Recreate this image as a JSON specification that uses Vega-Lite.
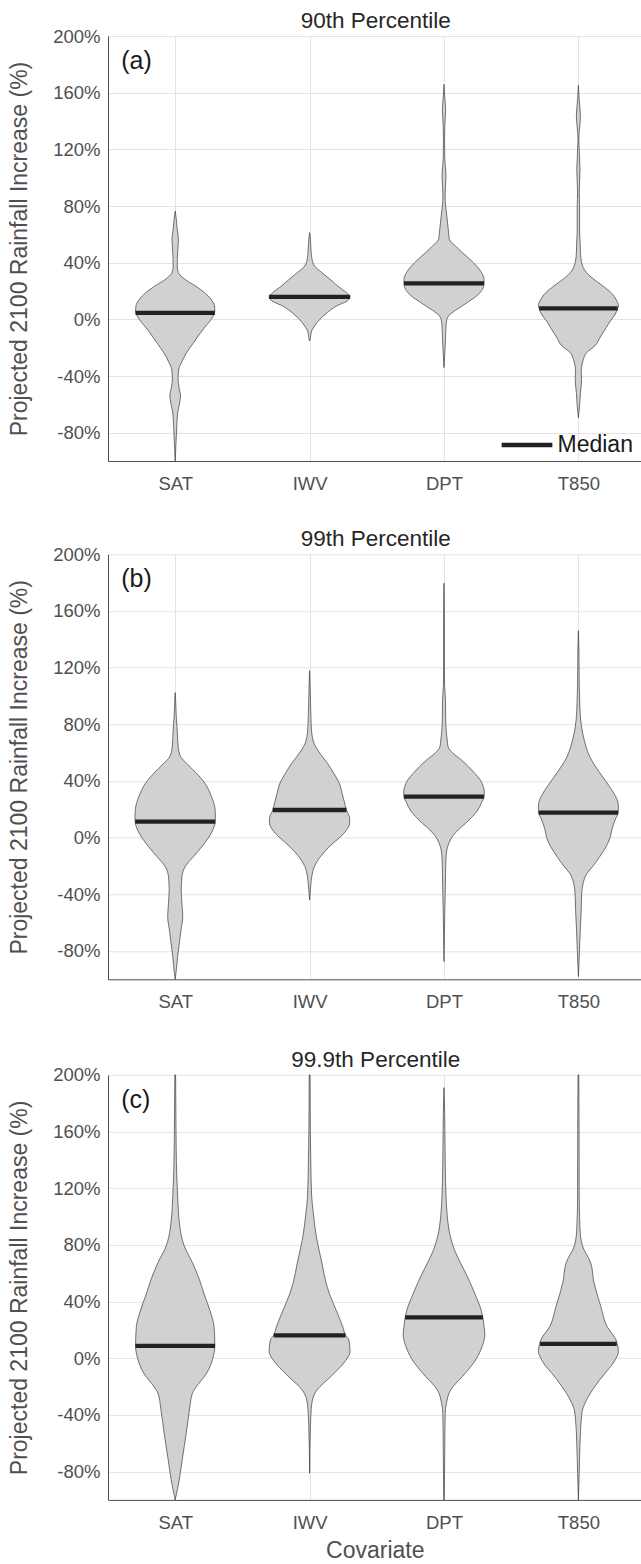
{
  "$schema": "https://vega.github.io/schema/vega-lite/v6.json",
  "padding": {"left": 8, "top": 10, "right": 0, "bottom": 0},
  "background": "white",
  "datasets": {
    "v": [
      {"p":"a","c":"SAT","y":-100,"w":0},{"p":"a","c":"SAT","y":-87,"w":0.006},{"p":"a","c":"SAT","y":-75,"w":0.012},{"p":"a","c":"SAT","y":-66,"w":0.018},{"p":"a","c":"SAT","y":-59,"w":0.033},{"p":"a","c":"SAT","y":-54,"w":0.04},{"p":"a","c":"SAT","y":-49,"w":0.03},{"p":"a","c":"SAT","y":-42,"w":0.021},{"p":"a","c":"SAT","y":-35,"w":0.027},{"p":"a","c":"SAT","y":-30.6,"w":0.046},{"p":"a","c":"SAT","y":-23.5,"w":0.085},{"p":"a","c":"SAT","y":-16.5,"w":0.137},{"p":"a","c":"SAT","y":-9.4,"w":0.189},{"p":"a","c":"SAT","y":-4.7,"w":0.228},{"p":"a","c":"SAT","y":0,"w":0.268},{"p":"a","c":"SAT","y":5.9,"w":0.295},{"p":"a","c":"SAT","y":9.4,"w":0.292},{"p":"a","c":"SAT","y":14,"w":0.268},{"p":"a","c":"SAT","y":18.8,"w":0.219},{"p":"a","c":"SAT","y":23.5,"w":0.152},{"p":"a","c":"SAT","y":28,"w":0.076},{"p":"a","c":"SAT","y":33,"w":0.024},{"p":"a","c":"SAT","y":37.6,"w":0.015},{"p":"a","c":"SAT","y":47,"w":0.018},{"p":"a","c":"SAT","y":56.5,"w":0.024},{"p":"a","c":"SAT","y":63.5,"w":0.015},{"p":"a","c":"SAT","y":70,"w":0.009},{"p":"a","c":"SAT","y":76.5,"w":0},
      {"p":"a","c":"IWV","y":-15.3,"w":0},{"p":"a","c":"IWV","y":-13,"w":0.006},{"p":"a","c":"IWV","y":-8.2,"w":0.015},{"p":"a","c":"IWV","y":-4.7,"w":0.037},{"p":"a","c":"IWV","y":0,"w":0.076},{"p":"a","c":"IWV","y":4.7,"w":0.13},{"p":"a","c":"IWV","y":9.4,"w":0.2},{"p":"a","c":"IWV","y":13,"w":0.28},{"p":"a","c":"IWV","y":16,"w":0.301},{"p":"a","c":"IWV","y":18.8,"w":0.274},{"p":"a","c":"IWV","y":23.5,"w":0.21},{"p":"a","c":"IWV","y":28,"w":0.155},{"p":"a","c":"IWV","y":33,"w":0.091},{"p":"a","c":"IWV","y":37.6,"w":0.037},{"p":"a","c":"IWV","y":41,"w":0.021},{"p":"a","c":"IWV","y":47,"w":0.012},{"p":"a","c":"IWV","y":56.5,"w":0.006},{"p":"a","c":"IWV","y":61.2,"w":0},
      {"p":"a","c":"DPT","y":-34.1,"w":0},{"p":"a","c":"DPT","y":-23.5,"w":0.006},{"p":"a","c":"DPT","y":-14.1,"w":0.011},{"p":"a","c":"DPT","y":-4.7,"w":0.015},{"p":"a","c":"DPT","y":0,"w":0.021},{"p":"a","c":"DPT","y":3.5,"w":0.046},{"p":"a","c":"DPT","y":7.1,"w":0.097},{"p":"a","c":"DPT","y":11.8,"w":0.173},{"p":"a","c":"DPT","y":16.5,"w":0.243},{"p":"a","c":"DPT","y":21.2,"w":0.286},{"p":"a","c":"DPT","y":25.4,"w":0.298},{"p":"a","c":"DPT","y":28.2,"w":0.298},{"p":"a","c":"DPT","y":32.9,"w":0.28},{"p":"a","c":"DPT","y":37.6,"w":0.243},{"p":"a","c":"DPT","y":42.4,"w":0.192},{"p":"a","c":"DPT","y":47.1,"w":0.137},{"p":"a","c":"DPT","y":51.8,"w":0.085},{"p":"a","c":"DPT","y":56.5,"w":0.04},{"p":"a","c":"DPT","y":61.2,"w":0.034},{"p":"a","c":"DPT","y":72.9,"w":0.021},{"p":"a","c":"DPT","y":80,"w":0.012},{"p":"a","c":"DPT","y":88,"w":0.008},{"p":"a","c":"DPT","y":101.2,"w":0.015},{"p":"a","c":"DPT","y":112.9,"w":0.006},{"p":"a","c":"DPT","y":127.1,"w":0.004},{"p":"a","c":"DPT","y":137,"w":0.006},{"p":"a","c":"DPT","y":148.2,"w":0.012},{"p":"a","c":"DPT","y":157.6,"w":0.005},{"p":"a","c":"DPT","y":165.9,"w":0},
      {"p":"a","c":"T850","y":-69.4,"w":0},{"p":"a","c":"T850","y":-61.2,"w":0.009},{"p":"a","c":"T850","y":-51.8,"w":0.015},{"p":"a","c":"T850","y":-42.4,"w":0.024},{"p":"a","c":"T850","y":-37.6,"w":0.021},{"p":"a","c":"T850","y":-28.2,"w":0.037},{"p":"a","c":"T850","y":-23.5,"w":0.061},{"p":"a","c":"T850","y":-18.8,"w":0.122},{"p":"a","c":"T850","y":-11.8,"w":0.167},{"p":"a","c":"T850","y":-5.9,"w":0.207},{"p":"a","c":"T850","y":-1.2,"w":0.237},{"p":"a","c":"T850","y":3.5,"w":0.274},{"p":"a","c":"T850","y":7.8,"w":0.292},{"p":"a","c":"T850","y":9.4,"w":0.298},{"p":"a","c":"T850","y":14.1,"w":0.28},{"p":"a","c":"T850","y":18.8,"w":0.243},{"p":"a","c":"T850","y":23.5,"w":0.183},{"p":"a","c":"T850","y":28.2,"w":0.116},{"p":"a","c":"T850","y":32.9,"w":0.061},{"p":"a","c":"T850","y":40,"w":0.024},{"p":"a","c":"T850","y":47.1,"w":0.015},{"p":"a","c":"T850","y":56.5,"w":0.012},{"p":"a","c":"T850","y":61.2,"w":0.009},{"p":"a","c":"T850","y":80,"w":0.009},{"p":"a","c":"T850","y":89.4,"w":0.006},{"p":"a","c":"T850","y":105.9,"w":0.012},{"p":"a","c":"T850","y":127.1,"w":0.003},{"p":"a","c":"T850","y":143.5,"w":0.015},{"p":"a","c":"T850","y":155,"w":0.006},{"p":"a","c":"T850","y":165.2,"w":0},

      {"p":"b","c":"SAT","y":-100,"w":0},{"p":"b","c":"SAT","y":-92,"w":0.01},{"p":"b","c":"SAT","y":-84,"w":0.018},{"p":"b","c":"SAT","y":-75,"w":0.03},{"p":"b","c":"SAT","y":-65.2,"w":0.043},{"p":"b","c":"SAT","y":-55.8,"w":0.056},{"p":"b","c":"SAT","y":-46.4,"w":0.05},{"p":"b","c":"SAT","y":-36.9,"w":0.045},{"p":"b","c":"SAT","y":-27.5,"w":0.05},{"p":"b","c":"SAT","y":-20.5,"w":0.074},{"p":"b","c":"SAT","y":-13.4,"w":0.136},{"p":"b","c":"SAT","y":-6.4,"w":0.198},{"p":"b","c":"SAT","y":0,"w":0.248},{"p":"b","c":"SAT","y":5.4,"w":0.28},{"p":"b","c":"SAT","y":11.3,"w":0.298},{"p":"b","c":"SAT","y":17.2,"w":0.299},{"p":"b","c":"SAT","y":24.2,"w":0.288},{"p":"b","c":"SAT","y":31.3,"w":0.26},{"p":"b","c":"SAT","y":38.4,"w":0.221},{"p":"b","c":"SAT","y":45.4,"w":0.159},{"p":"b","c":"SAT","y":52.5,"w":0.084},{"p":"b","c":"SAT","y":57.2,"w":0.04},{"p":"b","c":"SAT","y":64.2,"w":0.022},{"p":"b","c":"SAT","y":76,"w":0.015},{"p":"b","c":"SAT","y":85.4,"w":0.008},{"p":"b","c":"SAT","y":95,"w":0.004},{"p":"b","c":"SAT","y":102.4,"w":0},
      {"p":"b","c":"IWV","y":-44,"w":0},{"p":"b","c":"IWV","y":-36.9,"w":0.006},{"p":"b","c":"IWV","y":-27.5,"w":0.016},{"p":"b","c":"IWV","y":-20.5,"w":0.035},{"p":"b","c":"IWV","y":-13.4,"w":0.081},{"p":"b","c":"IWV","y":-6.4,"w":0.146},{"p":"b","c":"IWV","y":0,"w":0.223},{"p":"b","c":"IWV","y":5.4,"w":0.275},{"p":"b","c":"IWV","y":10.1,"w":0.298},{"p":"b","c":"IWV","y":13.6,"w":0.298},{"p":"b","c":"IWV","y":19.5,"w":0.274},{"p":"b","c":"IWV","y":25.4,"w":0.258},{"p":"b","c":"IWV","y":31.3,"w":0.242},{"p":"b","c":"IWV","y":38.4,"w":0.221},{"p":"b","c":"IWV","y":45.4,"w":0.18},{"p":"b","c":"IWV","y":52.5,"w":0.133},{"p":"b","c":"IWV","y":59.5,"w":0.077},{"p":"b","c":"IWV","y":66.6,"w":0.033},{"p":"b","c":"IWV","y":76,"w":0.014},{"p":"b","c":"IWV","y":85,"w":0.01},{"p":"b","c":"IWV","y":95,"w":0.007},{"p":"b","c":"IWV","y":106.6,"w":0.004},{"p":"b","c":"IWV","y":117.9,"w":0},
      {"p":"b","c":"DPT","y":-87.5,"w":0},{"p":"b","c":"DPT","y":-55.8,"w":0.005},{"p":"b","c":"DPT","y":-34.6,"w":0.01},{"p":"b","c":"DPT","y":-15.8,"w":0.014},{"p":"b","c":"DPT","y":-8.7,"w":0.021},{"p":"b","c":"DPT","y":-4,"w":0.036},{"p":"b","c":"DPT","y":0.7,"w":0.062},{"p":"b","c":"DPT","y":5.4,"w":0.105},{"p":"b","c":"DPT","y":10.1,"w":0.161},{"p":"b","c":"DPT","y":14.8,"w":0.211},{"p":"b","c":"DPT","y":19.5,"w":0.252},{"p":"b","c":"DPT","y":24.2,"w":0.277},{"p":"b","c":"DPT","y":28.9,"w":0.298},{"p":"b","c":"DPT","y":31.3,"w":0.3},{"p":"b","c":"DPT","y":36,"w":0.293},{"p":"b","c":"DPT","y":40.7,"w":0.27},{"p":"b","c":"DPT","y":45.4,"w":0.229},{"p":"b","c":"DPT","y":50.1,"w":0.182},{"p":"b","c":"DPT","y":54.8,"w":0.13},{"p":"b","c":"DPT","y":59.5,"w":0.068},{"p":"b","c":"DPT","y":64.2,"w":0.03},{"p":"b","c":"DPT","y":68.9,"w":0.024},{"p":"b","c":"DPT","y":73.7,"w":0.018},{"p":"b","c":"DPT","y":85.4,"w":0.012},{"p":"b","c":"DPT","y":97.2,"w":0.011},{"p":"b","c":"DPT","y":108,"w":0.004},{"p":"b","c":"DPT","y":120.7,"w":0.003},{"p":"b","c":"DPT","y":156,"w":0.003},{"p":"b","c":"DPT","y":179.6,"w":0},
      {"p":"b","c":"T850","y":-98.1,"w":0},{"p":"b","c":"T850","y":-80,"w":0.008},{"p":"b","c":"T850","y":-65,"w":0.014},{"p":"b","c":"T850","y":-53.4,"w":0.02},{"p":"b","c":"T850","y":-39.3,"w":0.025},{"p":"b","c":"T850","y":-32.2,"w":0.035},{"p":"b","c":"T850","y":-25.2,"w":0.064},{"p":"b","c":"T850","y":-20.5,"w":0.105},{"p":"b","c":"T850","y":-13.4,"w":0.159},{"p":"b","c":"T850","y":-6.4,"w":0.206},{"p":"b","c":"T850","y":0,"w":0.236},{"p":"b","c":"T850","y":5.4,"w":0.248},{"p":"b","c":"T850","y":12.5,"w":0.273},{"p":"b","c":"T850","y":17.6,"w":0.295},{"p":"b","c":"T850","y":20.7,"w":0.298},{"p":"b","c":"T850","y":25.4,"w":0.293},{"p":"b","c":"T850","y":31.3,"w":0.264},{"p":"b","c":"T850","y":36,"w":0.232},{"p":"b","c":"T850","y":43,"w":0.18},{"p":"b","c":"T850","y":50.1,"w":0.128},{"p":"b","c":"T850","y":57.2,"w":0.084},{"p":"b","c":"T850","y":64.2,"w":0.057},{"p":"b","c":"T850","y":73.6,"w":0.032},{"p":"b","c":"T850","y":83,"w":0.017},{"p":"b","c":"T850","y":95,"w":0.01},{"p":"b","c":"T850","y":109,"w":0.006},{"p":"b","c":"T850","y":132.5,"w":0.004},{"p":"b","c":"T850","y":146.1,"w":0},

      {"p":"c","c":"SAT","y":-100,"w":0},{"p":"c","c":"SAT","y":-85.9,"w":0.03},{"p":"c","c":"SAT","y":-71.8,"w":0.052},{"p":"c","c":"SAT","y":-52.9,"w":0.082},{"p":"c","c":"SAT","y":-36.5,"w":0.106},{"p":"c","c":"SAT","y":-24.7,"w":0.128},{"p":"c","c":"SAT","y":-20,"w":0.158},{"p":"c","c":"SAT","y":-10.6,"w":0.234},{"p":"c","c":"SAT","y":0,"w":0.28},{"p":"c","c":"SAT","y":8.7,"w":0.295},{"p":"c","c":"SAT","y":22.4,"w":0.289},{"p":"c","c":"SAT","y":31.8,"w":0.265},{"p":"c","c":"SAT","y":45.9,"w":0.213},{"p":"c","c":"SAT","y":55.8,"w":0.179},{"p":"c","c":"SAT","y":67.5,"w":0.128},{"p":"c","c":"SAT","y":79.3,"w":0.067},{"p":"c","c":"SAT","y":91.1,"w":0.037},{"p":"c","c":"SAT","y":114.6,"w":0.018},{"p":"c","c":"SAT","y":138.1,"w":0.009},{"p":"c","c":"SAT","y":161.6,"w":0.006},{"p":"c","c":"SAT","y":200,"w":0.003},
      {"p":"c","c":"IWV","y":-81.2,"w":0},{"p":"c","c":"IWV","y":-48.2,"w":0.006},{"p":"c","c":"IWV","y":-36.5,"w":0.012},{"p":"c","c":"IWV","y":-29.4,"w":0.021},{"p":"c","c":"IWV","y":-22.4,"w":0.055},{"p":"c","c":"IWV","y":-12.9,"w":0.158},{"p":"c","c":"IWV","y":-3.5,"w":0.253},{"p":"c","c":"IWV","y":0,"w":0.28},{"p":"c","c":"IWV","y":4.7,"w":0.301},{"p":"c","c":"IWV","y":12.9,"w":0.292},{"p":"c","c":"IWV","y":16.2,"w":0.268},{"p":"c","c":"IWV","y":22.4,"w":0.246},{"p":"c","c":"IWV","y":31.8,"w":0.207},{"p":"c","c":"IWV","y":45.9,"w":0.146},{"p":"c","c":"IWV","y":53.4,"w":0.122},{"p":"c","c":"IWV","y":67.5,"w":0.091},{"p":"c","c":"IWV","y":86.4,"w":0.049},{"p":"c","c":"IWV","y":100.5,"w":0.03},{"p":"c","c":"IWV","y":114.6,"w":0.015},{"p":"c","c":"IWV","y":138.1,"w":0.009},{"p":"c","c":"IWV","y":161.6,"w":0.005},{"p":"c","c":"IWV","y":200,"w":0.003},
      {"p":"c","c":"DPT","y":-100,"w":0.002},{"p":"c","c":"DPT","y":-60,"w":0.006},{"p":"c","c":"DPT","y":-38.8,"w":0.009},{"p":"c","c":"DPT","y":-31.8,"w":0.018},{"p":"c","c":"DPT","y":-22.4,"w":0.049},{"p":"c","c":"DPT","y":-12.9,"w":0.137},{"p":"c","c":"DPT","y":-8.2,"w":0.18},{"p":"c","c":"DPT","y":0,"w":0.243},{"p":"c","c":"DPT","y":5.9,"w":0.274},{"p":"c","c":"DPT","y":17.6,"w":0.304},{"p":"c","c":"DPT","y":22.4,"w":0.298},{"p":"c","c":"DPT","y":28.9,"w":0.289},{"p":"c","c":"DPT","y":36.5,"w":0.268},{"p":"c","c":"DPT","y":45.9,"w":0.228},{"p":"c","c":"DPT","y":55.8,"w":0.183},{"p":"c","c":"DPT","y":67.5,"w":0.122},{"p":"c","c":"DPT","y":76.9,"w":0.076},{"p":"c","c":"DPT","y":86.4,"w":0.046},{"p":"c","c":"DPT","y":100.5,"w":0.024},{"p":"c","c":"DPT","y":114.6,"w":0.015},{"p":"c","c":"DPT","y":138.1,"w":0.009},{"p":"c","c":"DPT","y":173.4,"w":0.005},{"p":"c","c":"DPT","y":191,"w":0},
      {"p":"c","c":"T850","y":-100,"w":0},{"p":"c","c":"T850","y":-81.2,"w":0.006},{"p":"c","c":"T850","y":-60,"w":0.012},{"p":"c","c":"T850","y":-43.5,"w":0.021},{"p":"c","c":"T850","y":-36.5,"w":0.03},{"p":"c","c":"T850","y":-29.4,"w":0.061},{"p":"c","c":"T850","y":-20,"w":0.122},{"p":"c","c":"T850","y":-10.6,"w":0.198},{"p":"c","c":"T850","y":-3.5,"w":0.259},{"p":"c","c":"T850","y":0,"w":0.28},{"p":"c","c":"T850","y":4.7,"w":0.298},{"p":"c","c":"T850","y":10.1,"w":0.289},{"p":"c","c":"T850","y":12.9,"w":0.28},{"p":"c","c":"T850","y":22.4,"w":0.213},{"p":"c","c":"T850","y":36.5,"w":0.167},{"p":"c","c":"T850","y":45.9,"w":0.137},{"p":"c","c":"T850","y":53.4,"w":0.116},{"p":"c","c":"T850","y":67.5,"w":0.091},{"p":"c","c":"T850","y":79.3,"w":0.03},{"p":"c","c":"T850","y":91.1,"w":0.012},{"p":"c","c":"T850","y":114.6,"w":0.006},{"p":"c","c":"T850","y":161.6,"w":0.005},{"p":"c","c":"T850","y":200,"w":0.003}
    ],
    "m": [
      {"p":"a","c":"SAT","y":4.5,"w":0.295},{"p":"a","c":"IWV","y":15.8,"w":0.301},{"p":"a","c":"DPT","y":25.4,"w":0.298},{"p":"a","c":"T850","y":7.8,"w":0.292},
      {"p":"b","c":"SAT","y":11.3,"w":0.298},{"p":"b","c":"IWV","y":19.5,"w":0.274},{"p":"b","c":"DPT","y":28.9,"w":0.298},{"p":"b","c":"T850","y":17.6,"w":0.296},
      {"p":"c","c":"SAT","y":8.7,"w":0.296},{"p":"c","c":"IWV","y":16.2,"w":0.267},{"p":"c","c":"DPT","y":28.9,"w":0.289},{"p":"c","c":"T850","y":10.1,"w":0.285}
    ]
  },
  "vconcat": [
    {
      "width": 533.5, "height": 425,
      "title": {"text": "90th Percentile", "frame": "group", "offset": -5.6, "dx": 1},
      "layer": [
        {"mark": {"type": "rule", "color": "#444444", "strokeWidth": 1.3}, "encoding": {"y": {"datum": 0, "type": "quantitative"}}},
        {"mark": {"type": "rule", "color": "#4d4d4d", "strokeWidth": 1}, "encoding": {"y": {"datum": 200, "type": "quantitative"}}},
        {"data": {"name": "v"},
         "transform": [{"filter": "datum.p == 'a'"}, {"calculate": "indexof(['SAT','IWV','DPT','T850'], datum.c) + 1 - datum.w", "as": "lo"}, {"calculate": "indexof(['SAT','IWV','DPT','T850'], datum.c) + 1 + datum.w", "as": "hi"}],
         "mark": {"type": "area", "orient": "horizontal", "interpolate": "monotone", "fill": "#d1d1d3", "fillOpacity": 1, "stroke": "#3c3c3c", "strokeWidth": 0.7},
         "encoding": {
           "y": {"field": "y", "type": "quantitative", "scale": {"domain": [-100, 200], "nice": false, "zero": false}, "axis": {"values": [-80, -40, 0, 40, 80, 120, 160, 200], "labelExpr": "datum.value + '%'", "title": "Projected 2100 Rainfall Increase (%)"}},
           "x": {"field": "lo", "type": "quantitative", "scale": {"domain": [0.5, 4.4695], "nice": false, "zero": false}, "axis": {"values": [1, 2, 3, 4], "labelExpr": "['SAT','IWV','DPT','T850'][datum.value - 1]", "title": null}},
           "x2": {"field": "hi"},
           "detail": {"field": "c"}
         }},
        {"data": {"name": "m"},
         "transform": [{"filter": "datum.p == 'a'"}, {"calculate": "indexof(['SAT','IWV','DPT','T850'], datum.c) + 1 - datum.w", "as": "lo"}, {"calculate": "indexof(['SAT','IWV','DPT','T850'], datum.c) + 1 + datum.w", "as": "hi"}],
         "mark": {"type": "rule", "strokeWidth": 4.3, "strokeCap": "butt"},
         "encoding": {
           "y": {"field": "y", "type": "quantitative"},
           "x": {"field": "lo", "type": "quantitative"},
           "x2": {"field": "hi"},
           "color": {"datum": "Median", "type": "nominal", "scale": {"range": ["#222222"]}, "legend": {"title": null, "orient": "none", "legendX": 391.5, "legendY": 381.5, "symbolType": "stroke", "symbolSize": 2570, "symbolStrokeWidth": 4.3, "labelFontSize": 23, "labelColor": "#1a1a1a", "labelOffset": 3, "padding": 0}}
         }},
        {"data": {"values": [{"t": "(a)"}]},
         "mark": {"type": "text", "align": "left", "baseline": "middle", "fontSize": 25, "color": "#1a1a1a"},
         "encoding": {"x": {"datum": 0.598, "type": "quantitative"}, "y": {"datum": 182.6, "type": "quantitative"}, "text": {"field": "t", "type": "nominal"}}}
      ]
    },
    {
      "spacing": 37.6,
      "vconcat": [
        {
          "width": 533.5, "height": 425,
          "title": {"text": "99th Percentile", "frame": "group", "offset": -5.6, "dx": 1},
          "layer": [
            {"mark": {"type": "rule", "color": "#444444", "strokeWidth": 1.3}, "encoding": {"y": {"datum": 0, "type": "quantitative"}}},
            {"mark": {"type": "rule", "color": "#4d4d4d", "strokeWidth": 1}, "encoding": {"y": {"datum": 200, "type": "quantitative"}}},
            {"data": {"name": "v"},
             "transform": [{"filter": "datum.p == 'b'"}, {"calculate": "indexof(['SAT','IWV','DPT','T850'], datum.c) + 1 - datum.w", "as": "lo"}, {"calculate": "indexof(['SAT','IWV','DPT','T850'], datum.c) + 1 + datum.w", "as": "hi"}],
             "mark": {"type": "area", "orient": "horizontal", "interpolate": "monotone", "fill": "#d1d1d3", "fillOpacity": 1, "stroke": "#3c3c3c", "strokeWidth": 0.7},
             "encoding": {
               "y": {"field": "y", "type": "quantitative", "scale": {"domain": [-100, 200], "nice": false, "zero": false}, "axis": {"values": [-80, -40, 0, 40, 80, 120, 160, 200], "labelExpr": "datum.value + '%'", "title": "Projected 2100 Rainfall Increase (%)"}},
               "x": {"field": "lo", "type": "quantitative", "scale": {"domain": [0.5, 4.4695], "nice": false, "zero": false}, "axis": {"values": [1, 2, 3, 4], "labelExpr": "['SAT','IWV','DPT','T850'][datum.value - 1]", "title": null}},
               "x2": {"field": "hi"},
               "detail": {"field": "c"}
             }},
            {"data": {"name": "m"},
             "transform": [{"filter": "datum.p == 'b'"}, {"calculate": "indexof(['SAT','IWV','DPT','T850'], datum.c) + 1 - datum.w", "as": "lo"}, {"calculate": "indexof(['SAT','IWV','DPT','T850'], datum.c) + 1 + datum.w", "as": "hi"}],
             "mark": {"type": "rule", "strokeWidth": 4.3, "strokeCap": "butt", "color": "#222222"},
             "encoding": {
               "y": {"field": "y", "type": "quantitative"},
               "x": {"field": "lo", "type": "quantitative"},
               "x2": {"field": "hi"}
             }},
            {"data": {"values": [{"t": "(b)"}]},
             "mark": {"type": "text", "align": "left", "baseline": "middle", "fontSize": 25, "color": "#1a1a1a"},
             "encoding": {"x": {"datum": 0.598, "type": "quantitative"}, "y": {"datum": 182.6, "type": "quantitative"}, "text": {"field": "t", "type": "nominal"}}}
          ]
        },
        {
          "width": 533.5, "height": 425,
          "title": {"text": "99.9th Percentile", "frame": "group", "offset": -5.6, "dx": 1},
          "layer": [
            {"mark": {"type": "rule", "color": "#444444", "strokeWidth": 1.3}, "encoding": {"y": {"datum": 0, "type": "quantitative"}}},
            {"mark": {"type": "rule", "color": "#4d4d4d", "strokeWidth": 1}, "encoding": {"y": {"datum": 200, "type": "quantitative"}}},
            {"data": {"name": "v"},
             "transform": [{"filter": "datum.p == 'c'"}, {"calculate": "indexof(['SAT','IWV','DPT','T850'], datum.c) + 1 - datum.w", "as": "lo"}, {"calculate": "indexof(['SAT','IWV','DPT','T850'], datum.c) + 1 + datum.w", "as": "hi"}],
             "mark": {"type": "area", "orient": "horizontal", "interpolate": "monotone", "fill": "#d1d1d3", "fillOpacity": 1, "stroke": "#3c3c3c", "strokeWidth": 0.7},
             "encoding": {
               "y": {"field": "y", "type": "quantitative", "scale": {"domain": [-100, 200], "nice": false, "zero": false}, "axis": {"values": [-80, -40, 0, 40, 80, 120, 160, 200], "labelExpr": "datum.value + '%'", "title": "Projected 2100 Rainfall Increase (%)"}},
               "x": {"field": "lo", "type": "quantitative", "scale": {"domain": [0.5, 4.4695], "nice": false, "zero": false}, "axis": {"values": [1, 2, 3, 4], "labelExpr": "['SAT','IWV','DPT','T850'][datum.value - 1]", "title": "Covariate"}},
               "x2": {"field": "hi"},
               "detail": {"field": "c"}
             }},
            {"data": {"name": "m"},
             "transform": [{"filter": "datum.p == 'c'"}, {"calculate": "indexof(['SAT','IWV','DPT','T850'], datum.c) + 1 - datum.w", "as": "lo"}, {"calculate": "indexof(['SAT','IWV','DPT','T850'], datum.c) + 1 + datum.w", "as": "hi"}],
             "mark": {"type": "rule", "strokeWidth": 4.3, "strokeCap": "butt", "color": "#222222"},
             "encoding": {
               "y": {"field": "y", "type": "quantitative"},
               "x": {"field": "lo", "type": "quantitative"},
               "x2": {"field": "hi"}
             }},
            {"data": {"values": [{"t": "(c)"}]},
             "mark": {"type": "text", "align": "left", "baseline": "middle", "fontSize": 25, "color": "#1a1a1a"},
             "encoding": {"x": {"datum": 0.598, "type": "quantitative"}, "y": {"datum": 182.6, "type": "quantitative"}, "text": {"field": "t", "type": "nominal"}}}
          ]
        }
      ]
    }
  ],
  "spacing": 35.3,
  "resolve": {"scale": {"color": "independent"}, "legend": {"color": "independent"}},
  "config": {
    "font": "Liberation Sans",
    "view": {"stroke": null},
    "title": {"font": "Liberation Sans", "fontSize": 22.5, "fontWeight": "normal", "color": "#262626", "anchor": "middle"},
    "axis": {"labelFont": "Liberation Sans", "labelFontSize": 18.5, "labelColor": "#505050", "titleFont": "Liberation Sans", "titleFontSize": 23, "titleFontWeight": "normal", "titleColor": "#505050", "grid": true, "gridColor": "#e3e3e3", "gridWidth": 1, "ticks": false, "domain": true, "domainColor": "#4d4d4d", "domainWidth": 1, "labelFlush": false},
    "axisY": {"labelPadding": 8, "titlePadding": 21},
    "axisX": {"labelPadding": 13.5, "titlePadding": 8},
    "legend": {"labelFont": "Liberation Sans"}
  }
}
